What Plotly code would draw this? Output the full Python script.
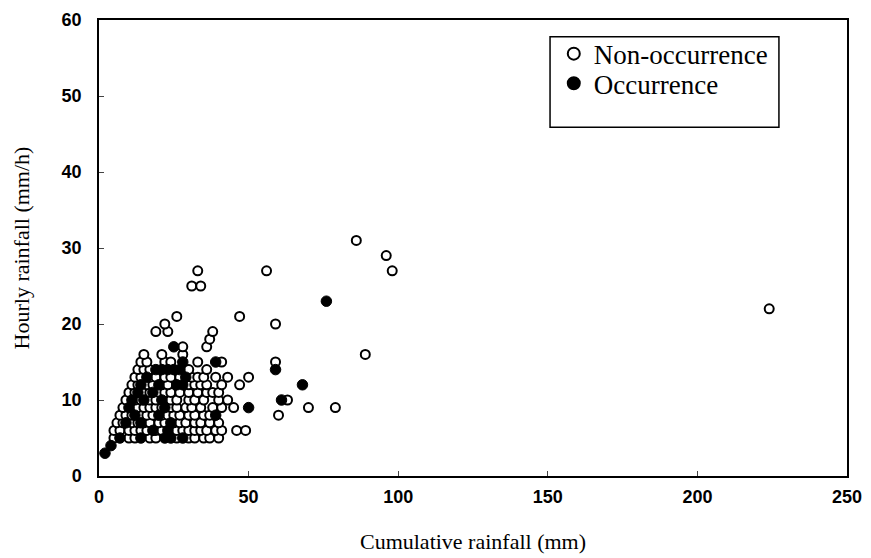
import plotly.graph_objects as go

# Non-occurrence (open circles): cumulative rainfall (mm) / hourly rainfall (mm/h)
non_x = [5, 10, 12, 17, 19, 26, 30, 32, 35, 37, 40,
         5, 7, 10, 12, 14, 16, 19, 21, 24, 26, 28, 30, 32, 34, 36, 39, 41, 46, 49,
         6, 8, 11, 13, 15, 17, 20, 22, 25, 27, 29, 32, 34, 37, 40,
         7, 9, 11, 14, 16, 18, 21, 23, 25, 27, 30, 32, 35, 37, 60,
         8, 11, 13, 15, 17, 19, 21, 24, 26, 29, 31, 34, 38, 41, 45, 70, 79,
         9, 12, 14, 17, 19, 22, 24, 26, 30, 32, 35, 40, 43, 63,
         10, 12, 15, 17, 20, 22, 24, 27, 30, 33, 36, 38, 40,
         11, 13, 16, 18, 21, 23, 30, 32, 34, 36, 41, 47,
         12, 14, 17, 19, 22, 24, 27, 31, 33, 35, 39, 43, 50,
         13, 15, 17, 30, 36,
         14, 16, 22, 24, 33, 41, 59,
         15, 21, 28, 89,
         28, 36,
         37,
         19, 23, 38,
         22, 59,
         26, 47,
         224,
         31, 34,
         33, 56, 98,
         96,
         86]
non_y = [5] * 11 + [6] * 19 + [7] * 15 + [8] * 15 + [9] * 17 + [10] * 14 \
    + [11] * 13 + [12] * 12 + [13] * 13 + [14] * 5 + [15] * 7 + [16] * 4 \
    + [17] * 2 + [18] + [19] * 3 + [20] * 2 + [21] * 2 + [22] + [25] * 2 \
    + [27] * 3 + [29] + [31]

# Occurrence (filled circles)
occ_x = [2, 4,
         7, 14, 22, 24, 28,
         18, 23,
         9, 14, 24,
         12, 20, 39,
         10, 22, 50,
         11, 15, 21, 61,
         13, 18,
         14, 20, 26, 28, 68,
         16, 29,
         19, 21, 23, 25, 27, 59,
         28, 39,
         25,
         76]
occ_y = [3, 4] + [5] * 5 + [6] * 2 + [7] * 3 + [8] * 3 + [9] * 3 + [10] * 4 \
    + [11] * 2 + [12] * 5 + [13] * 2 + [14] * 6 + [15] * 2 + [17] + [23]

x_ticks = [0, 50, 100, 150, 200, 250]
y_ticks = [0, 10, 20, 30, 40, 50, 60]

fig = go.Figure()
fig.add_trace(go.Scatter(
    x=non_x, y=non_y, mode="markers", name="Non-occurrence", legend="legend",
    marker=dict(symbol="circle", size=9, color="white",
                line=dict(color="black", width=2)),
))
fig.add_trace(go.Scatter(
    x=occ_x, y=occ_y, mode="markers", name="Occurrence", legend="legend2",
    marker=dict(symbol="circle", size=10.5, color="black",
                line=dict(color="black", width=1)),
))

tick_font = dict(family="Liberation Sans", size=18, color="black", weight="bold")
title_font = dict(family="Liberation Serif", size=22, color="black")
legend_font = dict(family="Liberation Serif", size=27, color="black")

# page has an 8px body margin, so the figure is 8px smaller on each side
fig.update_layout(
    width=863, height=550,
    margin=dict(l=91, r=24, t=12, b=82),
    paper_bgcolor="white", plot_bgcolor="white",
    showlegend=True,
    legend=dict(x=0.608, y=0.979, xanchor="left", yanchor="top",
                bgcolor="rgba(0,0,0,0)", borderwidth=0, font=legend_font,
                itemsizing="constant"),
    legend2=dict(x=0.608, y=0.914, xanchor="left", yanchor="top",
                 bgcolor="rgba(0,0,0,0)", borderwidth=0, font=legend_font,
                 itemsizing="constant"),
    shapes=[dict(type="rect", xref="paper", yref="paper",
                 x0=0.603, x1=0.909, y0=0.765, y1=0.963,
                 line=dict(color="black", width=1.5))],
    xaxis=dict(range=[0, 250], tickvals=x_ticks, ticks="inside", ticklen=5,
               showgrid=False, zeroline=False, showline=True, mirror=True,
               linecolor="black", linewidth=1.5, tickfont=tick_font,
               ticklabelstandoff=4, automargin=False, ticklabeloverflow="allow",
               title=dict(text="Cumulative rainfall (mm)", font=title_font, standoff=27)),
    yaxis=dict(range=[0, 60], tickvals=y_ticks, ticks="inside", ticklen=5,
               showgrid=False, zeroline=False, showline=True, mirror=True,
               linecolor="black", linewidth=1.5, tickfont=tick_font,
               ticklabelstandoff=12, automargin=False, ticklabeloverflow="allow",
               title=dict(text="Hourly rainfall (mm/h)", font=title_font, standoff=26)),
)

fig.write_html("out.html")
